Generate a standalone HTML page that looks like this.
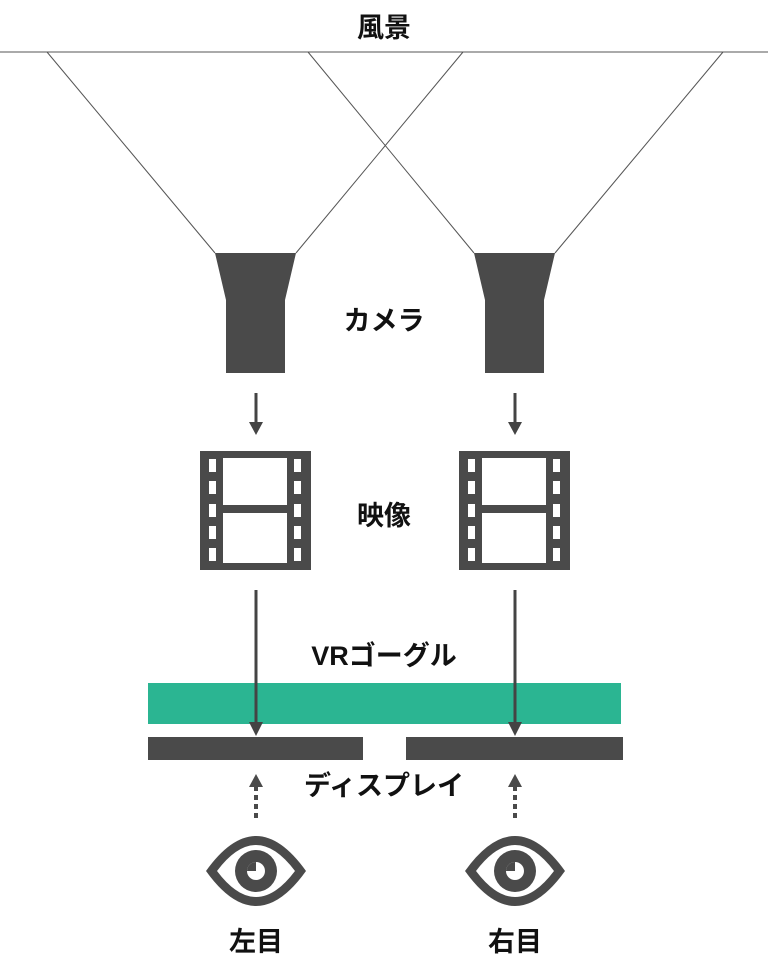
<!DOCTYPE html>
<html><head><meta charset="utf-8"><style>body{margin:0;background:#fff}svg{display:block}text{font-family:"Liberation Sans","Noto Sans CJK JP",sans-serif;font-weight:bold;font-size:27px;fill:#111;text-anchor:middle}</style></head><body>
<svg width="768" height="978" viewBox="0 0 768 978" xmlns="http://www.w3.org/2000/svg">
<defs>
<g id="film"><rect x="0" y="0" width="111" height="119" fill="#4a4a4a"/>
<rect x="23" y="7" width="64" height="47" fill="#fff"/><rect x="23" y="62" width="64" height="50" fill="#fff"/>
<g fill="#fff"><rect x="9" y="8" width="7" height="13"/><rect x="9" y="30" width="7" height="13"/><rect x="9" y="53" width="7" height="13"/><rect x="9" y="75" width="7" height="13"/><rect x="9" y="97" width="7" height="13"/>
<rect x="94" y="8" width="7" height="13"/><rect x="94" y="30" width="7" height="13"/><rect x="94" y="53" width="7" height="13"/><rect x="94" y="75" width="7" height="13"/><rect x="94" y="97" width="7" height="13"/></g></g>
<g id="eye"><path d="M-50 0 Q0 -70 50 0 Q0 70 -50 0Z" fill="#4a4a4a"/><path d="M-39 0 Q0 -52 39 0 Q0 52 -39 0Z" fill="#fff"/><circle r="21" fill="#4a4a4a"/><circle r="9" fill="#fff"/><path d="M0 0 L0 -9 A9 9 0 0 0 -9 0Z" fill="#4a4a4a"/></g>
</defs>
<line x1="0" y1="52" x2="768" y2="52" stroke="#555" stroke-width="1"/>
<g stroke="#555" stroke-width="1"><line x1="47" y1="52" x2="215" y2="253"/><line x1="463" y1="52" x2="296" y2="253"/><line x1="308" y1="52" x2="474" y2="253"/><line x1="723" y1="52" x2="555" y2="253"/></g>
<path d="M215 253 L296 253 L285 300 L285 373 L226 373 L226 300Z" fill="#4a4a4a"/>
<path d="M474 253 L555 253 L544 300 L544 373 L485 373 L485 300Z" fill="#4a4a4a"/>
<g stroke="#444" stroke-width="3"><line x1="256" y1="393" x2="256" y2="424"/><line x1="515" y1="393" x2="515" y2="424"/></g>
<path d="M249 422 L263 422 L256 435Z M508 422 L522 422 L515 435Z" fill="#444"/>
<use href="#film" x="200" y="451"/><use href="#film" x="459" y="451"/>
<rect x="148" y="683" width="473" height="41" fill="#2bb592"/>
<rect x="148" y="737" width="215" height="23" fill="#4a4a4a"/><rect x="406" y="737" width="217" height="23" fill="#4a4a4a"/>
<g stroke="#444" stroke-width="3"><line x1="256" y1="590" x2="256" y2="724"/><line x1="515" y1="590" x2="515" y2="724"/></g>
<path d="M249 722 L263 722 L256 736Z M508 722 L522 722 L515 736Z" fill="#444"/>
<g stroke="#4a4a4a" stroke-width="4" stroke-dasharray="5 4"><line x1="256" y1="786" x2="256" y2="822"/><line x1="515" y1="786" x2="515" y2="822"/></g>
<path d="M249 787 L263 787 L256 774Z M508 787 L522 787 L515 774Z" fill="#4a4a4a"/>
<use href="#eye" x="256" y="871"/><use href="#eye" x="515" y="871"/>
<text x="384" y="37">風景</text>
<text x="384" y="330">カメラ</text>
<text x="384" y="525">映像</text>
<text x="384" y="665">VRゴーグル</text>
<text x="384" y="795">ディスプレイ</text>
<text x="256" y="951">左目</text>
<text x="515" y="951">右目</text>
</svg>
</body></html>
